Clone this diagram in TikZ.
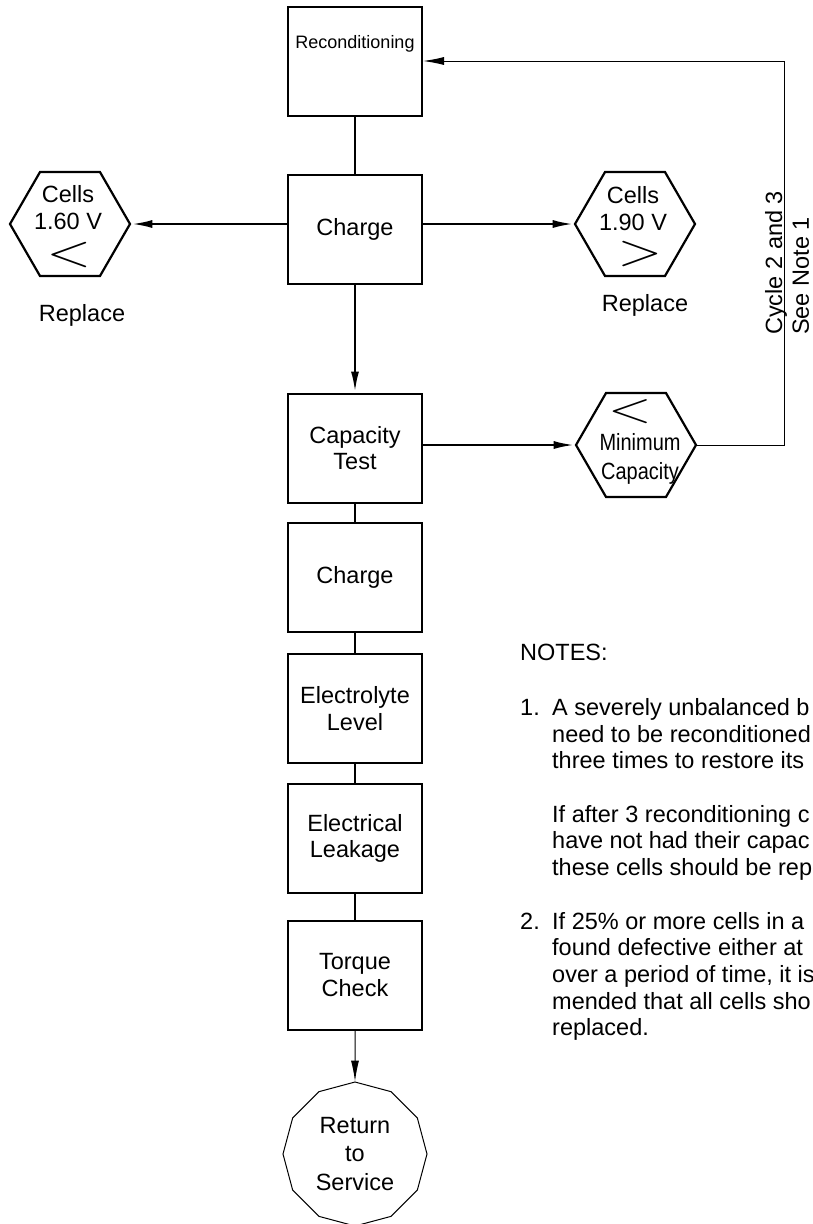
\documentclass[tikz,border=0pt]{standalone}
\usepackage{fontspec}
\setmainfont{Liberation Sans}
\usetikzlibrary{shapes.geometric,arrows.meta}

\begin{document}
\begin{tikzpicture}[x=1pt, y=-1pt,
    every node/.style={font=\fontsize{23.5}{26.7}\selectfont, inner sep=0pt, align=center},
    stage/.style={draw, line width=2pt, minimum width=134pt, minimum height=109pt},
    hexa/.style={draw, line width=2.2pt, regular polygon, regular polygon sides=6, minimum size=120pt},
    sign/.style={font=\fontsize{24.88}{25}\selectfont},
    flow/.style={line width=2.5pt},
    thinflow/.style={line width=1pt},
    flowarrow/.style={-{Latex[length=21pt,width=8pt]}}]
    \useasboundingbox (0,0) rectangle (812,1224);
    \clip (0,0) rectangle (812,1224);

    % main column
    \node[stage] (recon) at (355,61.5) {};
    \node[font=\fontsize{18}{20}\selectfont] (recontext) at (355,44) {Reconditioning};
    \node[stage] (charge) at (355,229) {Charge};
    \node[stage] (captest) at (355,448) {Capacity\\Test};
    \node[stage] (recharge) at (355,577.5) {Charge};
    \node[stage] (electrolyte) at (355,708.5) {Electrolyte\\Level};
    \node[stage] (leakage) at (355,838.5) {Electrical\\Leakage};
    \node[stage] (torque) at (355,975) {Torque\\Check};
    \node[draw, line width=1pt, regular polygon, regular polygon sides=12,
        shape border rotate=15, minimum size=144pt,
        font=\fontsize{23.5}{28.5}\selectfont] (service) at (355,1154) {Return\\to\\Service};

    % voltage checks
    \node[hexa] (lowcells) at (70,224) {};
    \node (lowtext) at (68,207.5) {Cells\\1.60 V};
    \node[sign] (lowsign) at (69,266.5) {\smash{\scalebox{2.35}[1.85]{$<$}}};
    \node (lowreplace) at (82,315) {Replace};

    \node[hexa] (highcells) at (635,224) {};
    \node (hightext) at (633,208.5) {Cells\\1.90 V};
    \node[sign] (highsign) at (640,265.5) {\smash{\scalebox{2.35}[1.85]{$>$}}};
    \node (highreplace) at (645,305) {Replace};

    \node[hexa] (mincap) at (636,445) {};
    \node[sign] (minsign) at (630,422) {\smash{\scalebox{2.3}[1.75]{$<$}}};
    \node[font=\fontsize{23.5}{28.3}\selectfont] (mintext) at (640,459)
        {\scalebox{0.85}[1]{Minimum}\\\scalebox{0.85}[1]{Capacity}};

    % connectors
    \draw[flow] (recon) -- (charge);
    \draw[flow, flowarrow] (charge) -- (captest);
    \draw[flow, flowarrow] (charge.west |- lowcells) -- (lowcells);
    \draw[flow, flowarrow] (charge.east |- highcells) -- (highcells);
    \draw[flow, flowarrow] (captest.east |- mincap) -- (mincap);
    \draw[flow] (captest) -- (recharge);
    \draw[flow] (recharge) -- (electrolyte);
    \draw[flow] (electrolyte) -- (leakage);
    \draw[flow] (leakage) -- (torque);
    \draw[thinflow, flowarrow] (torque) -- (service);

    % reconditioning loop
    \coordinate (loopcorner) at (784,61);
    \draw[thinflow, flowarrow] (mincap) -| (loopcorner) -- (recon.east |- loopcorner);
    \node[rotate=90, anchor=west, align=left] (loopnote) at (787,335) {Cycle 2 and 3\\See Note 1};

    % notes
    \node[anchor=base west] (notes) at (520,660) {NOTES:};
    \node[anchor=base west] (noteonenum) at (520,715.4) {1.};
    \node[anchor=base west] (notetwonum) at (520,929) {2.};
    \foreach \line/\txt in {0/A severely unbalanced b, 1/need to be reconditioned,
        2/three times to restore its, 4/If after 3 reconditioning c,
        5/have not had their capac, 6/these cells should be rep,
        8/If 25\% or more cells in a, 9/found defective either at,
        10/{over a period of time, it is}, 11/mended that all cells sho, 12/replaced.}
        \node[anchor=base west] (noteline-\line) at (552,{715.4+26.7*\line}) {\txt};
\end{tikzpicture}
\end{document}
